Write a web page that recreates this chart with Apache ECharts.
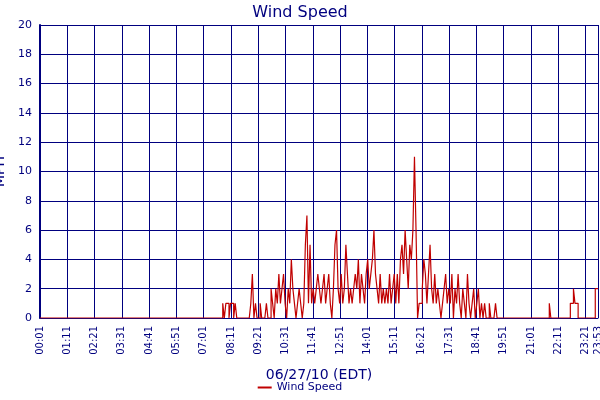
<!DOCTYPE html>
<html><head><meta charset="utf-8">
<script src="https://cdn.jsdelivr.net/npm/echarts@6/dist/echarts.min.js"></script>
<style>body{margin:0}#c{width:600px;height:400px}</style></head>
<body><div id="c"></div>
<script>
// active segment: samples every 4 minutes starting at minute 470
const activeStart = 470, activeStep = 4;
const activeValues = [1,0,1,1,0,1,1,0,1,0, 0,0,0,0,0,0,0,0,1, 3,0,1, 0,0,1,0,0,0, 1,0,0,2,1,0,
 2,1,3,1,2,3,1, 0,2,1,4,2,1,0,1, 2,1,0,1,5, 7,1,5,1,2, 1,2,3,2,1,2,3,1, 2,3,1,0,2,5,6,
 2,1,3,1,2,5, 3,1,2,1,2,3,2, 4,1,3,2,1,3,4, 2,3,4,6,3, 2,1,3,1,2,1,2,1, 3,1,2,3,1,3,1,4,
 5,3,6,4,2,5,4, 6,11,6, 0,1,1,2,4,3,1, 3,5,2,1,3,1, 2,1,0,1,2,3,1,2, 1,3,0,2,1,3,1,
 0,2,1,0,3,1,0,1, 2,0,1,2,0,1,0,1, 0,0,1,0,0,0,1,0, 0];
const lateMinutes = [1308,1312,1362,1366,1370,1374,1378,1382,1426,1433];
const lateValues  = [1,0,1,1,2,1,1,0,2,2];
const seriesName = 'Wind Speed';

const data = [[0,0]];
activeValues.forEach((v,i)=>data.push([activeStart+i*activeStep-1, v]));
lateMinutes.forEach((m,i)=>data.push([m-1, lateValues[i]]));

function fmt(v){const m=v+1;const h=Math.floor(m/60),mm=m%60;return String(h).padStart(2,'0')+':'+String(mm).padStart(2,'0');}
const navy='#00007f';
const chart=echarts.init(document.getElementById('c'));
chart.setOption({
 animation:false,
 textStyle:{fontFamily:'DejaVu Sans'},
 title:{text:'Wind Speed',left:'center',top:0,textStyle:{color:navy,fontSize:16,fontWeight:'normal',fontFamily:'DejaVu Sans'}},
 legend:{bottom:2,itemWidth:14,itemHeight:2,icon:'rect',textStyle:{color:navy,fontSize:11},data:[seriesName]},
 grid:{left:40,right:2,top:25,bottom:82,containLabel:false,outerBoundsMode:'none'},
 xAxis:{type:'value',min:0,max:1432,interval:70,
  name:'06/27/10 (EDT)',nameLocation:'middle',nameGap:50,nameTextStyle:{color:navy,fontSize:14},
  axisLine:{lineStyle:{color:navy,width:1}},axisTick:{show:false},
  axisLabel:{rotate:90,color:navy,fontSize:10,formatter:fmt,showMaxLabel:true,showMinLabel:true},
  splitLine:{show:true,lineStyle:{color:navy,width:1}}},
 yAxis:{type:'value',min:0,max:20,interval:2,name:'MPH',nameLocation:'middle',nameGap:25,
  nameTextStyle:{color:navy,fontSize:14},
  axisLine:{show:true,lineStyle:{color:navy,width:2}},axisTick:{show:false},
  axisLabel:{color:navy,fontSize:11,margin:8},
  splitLine:{lineStyle:{color:navy,width:1}}},
 series:[{name:seriesName,type:'line',step:'end',data:data,showSymbol:false,sampling:null,
  lineStyle:{color:'#c00000',width:1.2},itemStyle:{color:'#c00000'}}]
});
</script></body></html>
